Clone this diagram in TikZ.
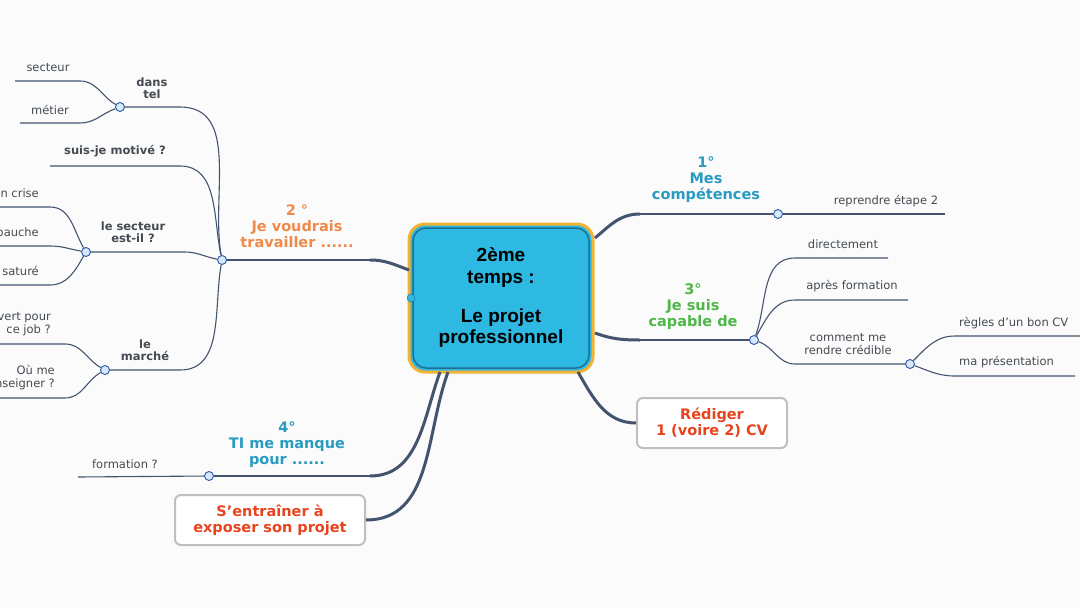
\documentclass[tikz,border=0pt]{standalone}
\usepackage{fontspec}
\setmainfont{DejaVu Sans}
\newfontfamily\arialfont{Liberation Sans}
\usetikzlibrary{positioning}
\definecolor{linecol}{HTML}{44546E}
\definecolor{boxblue}{HTML}{2DB9E2}
\definecolor{boxedge}{HTML}{1E6F95}
\definecolor{halo}{HTML}{F2B233}
\definecolor{tblue}{HTML}{2A9BC0}
\definecolor{tgreen}{HTML}{4DB848}
\definecolor{torange}{HTML}{F08A4B}
\definecolor{tred}{HTML}{E8431E}
\definecolor{tgray}{HTML}{444B52}
\definecolor{dotfill}{HTML}{D6E8FA}
\definecolor{dotedge}{HTML}{2B5AA8}
\tikzset{
  link/.style={draw=linecol, line width=1.1pt},
  trunk/.style={draw=linecol, line width=3pt},
  dot/.style={circle, draw=dotedge, fill=dotfill, line width=0.9pt, inner sep=0pt, minimum size=9pt},
  leaf/.style={font=\fontsize{11.5}{13}\selectfont, text=tgray, align=center, inner sep=1pt},
  sub/.style={font=\fontsize{11.5}{11.5}\selectfont\bfseries, text=tgray, align=center, inner sep=1pt},
  topic/.style={font=\fontsize{14.5}{16}\selectfont\bfseries, align=center, inner sep=1pt},
  cbox/.style={draw=black!25, line width=2pt, rounded corners=6pt, fill=white, text=tred,
    font=\fontsize{14.5}{16}\selectfont\bfseries, align=center}
}
\begin{document}
\begin{tikzpicture}[x=1pt,y=-1pt]
  \fill[white!97!gray] (0,0) rectangle (1080,608);
  \clip (0,0) rectangle (1080,608);
  % central topic
  \node[draw=halo, line width=3pt, rounded corners=16pt, minimum width=184pt, minimum height=148pt,
    fill=boxblue] (core) at (501,298) {};
  \node[draw=boxedge, line width=1.5pt, rounded corners=13pt, minimum width=176pt, minimum height=140pt,
    fill=boxblue, align=center, font=\arialfont\fontsize{19}{21}\selectfont\bfseries] (corein) at (501,298)
    {2ème\\temps :\\[19pt]Le projet\\professionnel};
  \node[circle, draw=boxedge, fill=boxblue, inner sep=0pt, minimum size=8pt] (coredot) at (411,298) {};
  % 1 - competences
  \coordinate (c1) at (595,238);
  \coordinate (c1e) at (640,214);
  \node[dot] (d1) at (778,214) {};
  \node[topic, text=tblue] (t1) at (706,180) {1°\\Mes\\compétences};
  \node[leaf] (l1) at (886,201) {reprendre étape 2};
  \draw[trunk] (c1) to[out=40,in=180] (c1e);
  \draw[link] (c1e) -- (d1) -- (945,214);
  % 3 - capable de
  \coordinate (c3) at (595,333);
  \coordinate (c3e) at (640,340);
  \node[dot] (d3) at (754,340) {};
  \node[topic, text=tgreen] (t3) at (693,307) {3°\\Je suis\\capable de};
  \draw[trunk] (c3) to[out=-20,in=180] (c3e);
  \draw[link] (c3e) -- (d3);
  \node[leaf] (l31) at (843,244) {directement};
  \node[leaf] (l32) at (852,286) {après formation};
  \node[leaf] (l33) at (848,344) {comment me\\rendre crédible};
  \node[dot] (d33) at (910,364) {};
  \draw[link] (d3) to[out=70,in=180] (795,258) -- (888,258);
  \draw[link] (d3) to[out=60,in=180] (795,300) -- (908,300);
  \draw[link] (d3) to[out=-20,in=180] (795,364) -- (d33);
  \node[leaf, anchor=west] (l331) at (958,323) {règles d'un bon CV};
  \node[leaf, anchor=west] (l332) at (958,362) {ma présentation};
  \draw[link] (d33) to[out=45,in=180] (955,336) -- (1080,336);
  \draw[link] (d33) to[out=-20,in=180] (955,376) -- (1075,376);
  % rediger CV
  \node[cbox, minimum width=150pt, minimum height=50pt] (cv) at (712,423) {Rédiger\\ 1 (voire 2) CV};
  \draw[trunk] (578,372) to[out=-60,in=180] (cv.west);
  % 2 - je voudrais travailler
  \coordinate (c2) at (409,270);
  \coordinate (c2e) at (370,260);
  \node[dot] (d2) at (222,260) {};
  \node[topic, text=torange] (t2) at (297,226) {2 °\\Je voudrais\\travailler ......};
  \draw[trunk] (c2) to[out=160,in=0] (c2e);
  \draw[link] (c2e) -- (d2);
  % dans tel
  \node[dot] (d21) at (120,107) {};
  \node[sub] (s21) at (152,88) {dans\\tel};
  \draw[link] (d2) to[out=100,in=0] (180,107) -- (d21);
  \node[leaf] (l211) at (48,68) {secteur};
  \node[leaf] (l212) at (50,110) {métier};
  \draw[link] (d21) to[out=150,in=0] (80,81) -- (15,81);
  \draw[link] (d21) to[out=200,in=0] (80,123) -- (20,123);
  % motive
  \node[sub] (s22) at (115,151) {suis-je motivé ?};
  \draw[link] (d2) to[out=102,in=0] (180,166) -- (50,166);
  % le secteur
  \node[dot] (d23) at (86,252) {};
  \node[sub] (s23) at (133,232) {le secteur\\est-il ?};
  \draw[link] (d2) to[out=170,in=0] (185,252) -- (d23);
  \node[leaf, anchor=east] (l231) at (40,193) {en crise};
  \node[leaf, anchor=east] (l232) at (40,232) {embauche};
  \node[leaf, anchor=east] (l233) at (40,271) {saturé};
  \draw[link] (d23) to[out=120,in=0] (50,207) -- (0,207);
  \draw[link] (d23) to[out=170,in=0] (50,246) -- (0,246);
  \draw[link] (d23) to[out=-120,in=0] (50,285) -- (0,285);
  % le marche
  \node[dot] (d24) at (105,370) {};
  \node[sub] (s24) at (145,350) {le\\marché};
  \draw[link] (d2) to[out=-100,in=0] (180,370) -- (d24);
  \node[leaf, anchor=east, align=right] (l241) at (52,324) {ouvert pour\\ce job ?};
  \node[leaf, anchor=east, align=right] (l242) at (56,378) {Où me\\renseigner ?};
  \draw[link] (d24) to[out=150,in=0] (65,344) -- (0,344);
  \draw[link] (d24) to[out=-150,in=0] (65,398) -- (0,398);
  % 4 - il me manque
  \coordinate (c4) at (440,372);
  \coordinate (c4e) at (370,476);
  \node[dot] (d4) at (209,476) {};
  \node[topic, text=tblue] (t4) at (287,445) {4°\\TI me manque\\pour ......};
  \draw[trunk] (c4) to[out=-110,in=0] (c4e);
  \draw[link] (c4e) -- (d4);
  \node[leaf] (l41) at (125,464) {formation ?};
  \draw[link] (d4) -- (78,477);
  % s'entrainer
  \node[cbox, minimum width=190pt, minimum height=50pt] (exp) at (270,520) {S’entraîner à\\exposer son projet};
  \draw[trunk] (448,372) to[out=-110,in=0] (exp.east);
\end{tikzpicture}
\end{document}
